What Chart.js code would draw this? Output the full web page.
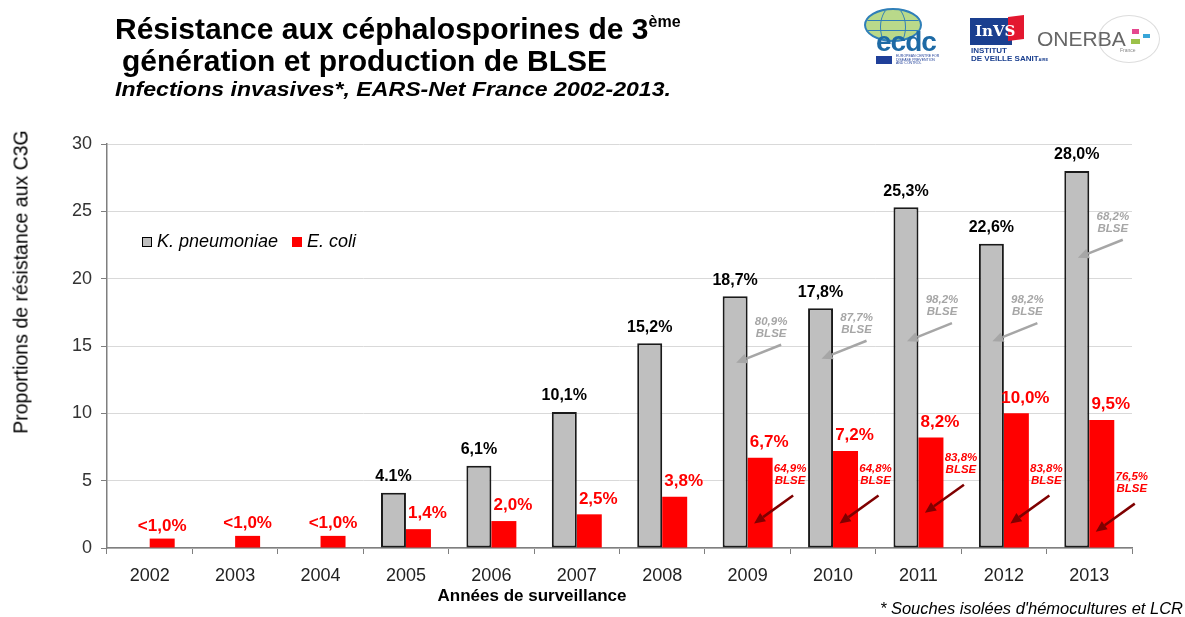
<!DOCTYPE html>
<html>
<head>
<meta charset="utf-8">
<script src="https://cdn.jsdelivr.net/npm/chart.js@4/dist/chart.umd.min.js"></script>
<style>
  body { margin:0; background:#fff; font-family:"Liberation Sans", Arial, sans-serif; }
  #wrap { position:relative; width:1185px; height:617px; overflow:hidden; }
  #c { position:absolute; left:0; top:0; }
  .abs { position:absolute; white-space:nowrap; }
  .t1 { left:115px; top:12px; font-size:30px; font-weight:bold; color:#000; }
  .t1 sup { font-size:16px; vertical-align:12px; }
  .t2 { left:122px; top:44px; font-size:30px; font-weight:bold; color:#000; }
  .t3 { left:115px; top:77px; font-size:21px; font-weight:bold; font-style:italic; color:#000; transform:scaleX(1.1); transform-origin:left top; }
  .ytitle { left:21px; top:282px; font-size:19.5px; color:#000; transform:translate(-50%,-50%) rotate(-90deg); }
  .xtitle { left:532px; top:596px; font-size:17px; font-weight:bold; color:#000; transform:translate(-50%,-50%); }
  .foot { right:2px; top:599px; font-size:16.5px; font-style:italic; color:#000; }
  #legend { left:142px; top:231px; font-size:18px; font-style:italic; color:#000; display:flex; align-items:center; }
  #legend .sw { display:inline-block; width:10px; height:10px; margin-right:5px; box-sizing:border-box; }
  #legend .it { display:flex; align-items:center; margin-right:14px; }
</style>
</head>
<body>
<div id="wrap">
  <canvas id="c" width="1185" height="617"></canvas>

  <div class="abs t1">Résistance aux céphalosporines de 3<sup>ème</sup></div>
  <div class="abs t2">génération et production de BLSE</div>
  <div class="abs t3">Infections invasives*, EARS-Net France 2002-2013.</div>

  <!-- logos -->
  <div class="abs" style="left:864px;top:8px;width:54px;height:30px;border-radius:50%;border:2px solid #2f7fb8;background:#b9d98a;overflow:hidden">
    <div style="position:absolute;left:0;right:0;top:10px;border-top:1px solid #2f7fb8"></div>
    <div style="position:absolute;left:0;right:0;top:20px;border-top:1px solid #2f7fb8"></div>
    <div style="position:absolute;left:14px;top:-4px;width:24px;height:40px;border-radius:50%;border:1px solid #2f7fb8"></div>
  </div>
  <div class="abs" style="left:876px;top:26px;font-size:28px;font-weight:bold;color:#1d6aa5;letter-spacing:-1px">ecdc</div>
  <div class="abs" style="left:876px;top:56px;width:16px;height:8px;background:#1f3f99"></div>
  <div class="abs" style="left:896px;top:55px;font-size:3.5px;line-height:3.5px;color:#1f3f99">EUROPEAN CENTRE FOR<br>DISEASE PREVENTION<br>AND CONTROL</div>

  <div class="abs" style="left:970px;top:18px;width:42px;height:27px;background:#1a3f8f"></div>
  <div class="abs" style="left:1008px;top:16px;width:16px;height:24px;background:#e3172f;transform:skewY(-8deg)"></div>
  <div class="abs" style="left:975px;top:22px;font-size:15px;font-weight:bold;color:#fff;font-family:'DejaVu Serif',serif">InVS</div>
  <div class="abs" style="left:971px;top:47px;font-size:8px;line-height:8px;font-weight:bold;color:#1a3f8f">INSTITUT<br>DE VEILLE SANIT<span style="font-size:4px">AIRE</span></div>

  <div class="abs" style="left:1098px;top:15px;width:60px;height:46px;border-radius:50%;border:1px solid #ddd"></div>
  <div class="abs" style="left:1037px;top:27px;font-size:21px;color:#666">ONERBA</div>
  <div class="abs" style="left:1132px;top:29px;width:7px;height:5px;background:#e5488f"></div>
  <div class="abs" style="left:1143px;top:34px;width:7px;height:4px;background:#37a6d9"></div>
  <div class="abs" style="left:1131px;top:39px;width:9px;height:5px;background:#9cc14a"></div>
  <div class="abs" style="left:1120px;top:47px;font-size:5px;color:#888">France</div>

  <div class="abs ytitle">Proportions de résistance aux C3G</div>
  <div class="abs xtitle">Années de surveillance</div>
  <div class="abs foot">* Souches isolées d'hémocultures et LCR</div>
  <div class="abs" id="legend"></div>
</div>

<script>
const years = ['2002','2003','2004','2005','2006','2007','2008','2009','2010','2011','2012','2013'];
const kpValues = [null, null, null, 4.1, 6.1, 10.1, 15.2, 18.7, 17.8, 25.3, 22.6, 28.0];
const ecValues = [0.7, 0.9, 0.9, 1.4, 2.0, 2.5, 3.8, 6.7, 7.2, 8.2, 10.0, 9.5];
const kpLabels = ['', '', '', '4.1%', '6,1%', '10,1%', '15,2%', '18,7%', '17,8%', '25,3%', '22,6%', '28,0%'];
const ecLabels = ['<1,0%', '<1,0%', '<1,0%', '1,4%', '2,0%', '2,5%', '3,8%', '6,7%', '7,2%', '8,2%', '10,0%', '9,5%'];
const kpBlse = [null, null, null, null, null, null, null, '80,9%', '87,7%', '98,2%', '98,2%', '68,2%'];
const ecBlse = [null, null, null, null, null, null, null, '64,9%', '64,8%', '83,8%', '83,8%', '76,5%'];
const yTicks = [0, 5, 10, 15, 20, 25, 30];

// where the BLSE notes sit (axis units, first text line)
const kpNoteY = [null, null, null, null, null, null, null, 16.8, 17.1, 18.4, 18.4, 24.6];
const ecNoteY = [null, null, null, null, null, null, null, 5.9, 5.9, 6.7, 5.9, 5.3];

const FONT = '"Liberation Sans", Arial, sans-serif';
const GREY = '#bfbfbf', RED = '#ff0000';

function arrow(ctx, x1, y1, x2, y2, color) {
  const a = Math.atan2(y2 - y1, x2 - x1), hl = 11, hw = 5;
  const bx = x2 - hl * Math.cos(a), by = y2 - hl * Math.sin(a);
  ctx.save();
  ctx.strokeStyle = color; ctx.fillStyle = color; ctx.lineWidth = 2.5;
  ctx.beginPath(); ctx.moveTo(x1, y1); ctx.lineTo(bx, by); ctx.stroke();
  ctx.beginPath();
  ctx.moveTo(x2, y2);
  ctx.lineTo(bx + hw * Math.sin(a), by - hw * Math.cos(a));
  ctx.lineTo(bx - hw * Math.sin(a), by + hw * Math.cos(a));
  ctx.closePath(); ctx.fill();
  ctx.restore();
}

const labelsPlugin = {
  id: 'labels',
  afterDatasetsDraw(chart) {
    const ctx = chart.ctx, y = chart.scales.y;
    const kp = chart.getDatasetMeta(0).data, ec = chart.getDatasetMeta(1).data;
    ctx.save();
    ctx.textAlign = 'center'; ctx.textBaseline = 'bottom';

    // value labels
    ctx.font = 'bold 16px ' + FONT; ctx.fillStyle = '#000';
    kp.forEach((b, i) => { if (kpValues[i] != null) ctx.fillText(kpLabels[i], b.x, b.y - 8); });
    ctx.font = 'bold 17px ' + FONT; ctx.fillStyle = RED;
    ec.forEach((b, i) => { ctx.fillText(ecLabels[i], b.x + (i < 3 ? 0 : 9), b.y - (i < 3 ? 4 : 7)); });

    // BLSE notes
    ctx.font = 'italic bold 11.5px ' + FONT; ctx.textBaseline = 'middle';
    kp.forEach((b, i) => {
      if (!kpBlse[i]) return;
      const ty = y.getPixelForValue(kpNoteY[i]), tx = b.x + 36;
      ctx.fillStyle = '#a6a6a6';
      ctx.fillText(kpBlse[i], tx, ty); ctx.fillText('BLSE', tx, ty + 12);
      arrow(ctx, tx + 10, ty + 23, b.x + 1, ty + 41, '#a6a6a6');
    });
    ec.forEach((b, i) => {
      if (!ecBlse[i]) return;
      const ty = y.getPixelForValue(ecNoteY[i]), tx = b.x + 30;
      ctx.fillStyle = RED;
      ctx.fillText(ecBlse[i], tx, ty); ctx.fillText('BLSE', tx, ty + 12);
      arrow(ctx, tx + 3, ty + 27, b.x - 6, ty + 55, '#7f0000');
    });
    ctx.restore();
  }
};

const chart = new Chart(document.getElementById('c'), {
  type: 'bar',
  data: {
    labels: years,
    datasets: [
      { label: 'K. pneumoniae', data: kpValues, backgroundColor: GREY, borderColor: '#1a1a1a', borderWidth: 2, borderSkipped: false,
        categoryPercentage: 0.585, barPercentage: 1 },
      { label: 'E. coli', data: ecValues, backgroundColor: RED, borderWidth: 0,
        categoryPercentage: 0.585, barPercentage: 1 }
    ]
  },
  options: {
    responsive: false,
    animation: false,
    layout: { padding: { top: 144, right: 53, left: 0, bottom: 0 } },
    plugins: { legend: { display: false }, tooltip: { enabled: false } },
    scales: {
      x: {
        grid: { drawOnChartArea: false, offset: true, tickLength: 6, tickColor: '#7f7f7f' },
        border: { color: '#7f7f7f', width: 1.5 },
        ticks: { font: { size: 18, family: FONT }, color: '#222', padding: 11 },
        afterFit: s => { s.height = 69; }
      },
      y: {
        min: 0, max: 30,
        afterBuildTicks: s => { s.ticks = yTicks.map(v => ({ value: v })); },
        ticks: { font: { size: 18, family: FONT }, color: '#333', padding: 9 },
        grid: { color: '#d9d9d9', tickColor: '#7f7f7f', tickLength: 6 },
        border: { color: '#7f7f7f', width: 1.5 },
        afterFit: s => { s.width = 107; }
      }
    }
  },
  plugins: [labelsPlugin]
});

// legend built from the datasets
document.getElementById('legend').innerHTML = chart.data.datasets.map(d =>
  `<span class="it"><span class="sw" style="background:${d.backgroundColor};${d.borderWidth ? 'border:1px solid #000' : ''}"></span>${d.label}</span>`
).join('');
</script>
</body>
</html>
